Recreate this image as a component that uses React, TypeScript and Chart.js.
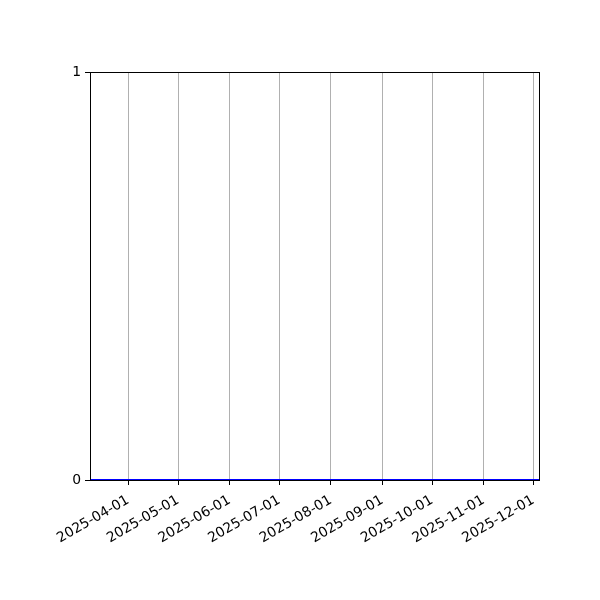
import { useEffect, useRef } from 'react';
import { Chart, registerables } from 'chart.js';

Chart.register(...registerables);

// series: a flat line at zero over the whole date range
const SERIES_DATES = ['2025-03-09', '2025-12-05'];
const SERIES_VALUES = [0, 0];

// month ticks on the x axis
const X_TICK_DATES = [
  '2025-04-01', '2025-05-01', '2025-06-01', '2025-07-01', '2025-08-01',
  '2025-09-01', '2025-10-01', '2025-11-01', '2025-12-01',
];
const Y_TICKS = [0, 1];

const DAY = 86400000;
const toDay = (s: string) => {
  const [y, m, d] = s.split('-').map(Number);
  return Date.UTC(y, m - 1, d) / DAY;
};
const fromDay = (v: number) => new Date(Math.round(v) * DAY).toISOString().slice(0, 10);

const FONT = { family: 'DejaVu Sans', size: 13.9 };

// frame on all four sides, drawn over the line like matplotlib spines
const framePlugin = {
  id: 'frame',
  afterDatasetsDraw(chart: Chart) {
    const { ctx, chartArea: a } = chart;
    ctx.save();
    ctx.strokeStyle = '#000';
    ctx.lineWidth = 1;
    ctx.strokeRect(a.left + 0.5, a.top + 0.5, a.right - a.left - 1, a.bottom - a.top);
    ctx.restore();
  },
};

export default function App() {
  const canvasRef = useRef<HTMLCanvasElement>(null);

  useEffect(() => {
    document.body.style.margin = '0';
    if (!canvasRef.current) return;
    const xs = SERIES_DATES.map(toDay);
    const chart = new Chart(canvasRef.current, {
      type: 'line',
      data: {
        datasets: [{
          data: xs.map((x, i) => ({ x, y: SERIES_VALUES[i] })),
          borderColor: '#0000ff',
          borderWidth: 2.1,
          pointRadius: 0,
          fill: false,
          clip: false,
        }],
      },
      options: {
        animation: false,
        responsive: false,
        devicePixelRatio: 1,
        layout: { padding: { top: 72, right: 60, left: 0, bottom: 0 } },
        plugins: { legend: { display: false }, tooltip: { enabled: false } },
        scales: {
          x: {
            type: 'linear',
            min: xs[0],
            max: xs[xs.length - 1],
            afterBuildTicks: (s: any) => {
              s.ticks = X_TICK_DATES.map((d) => ({ value: toDay(d) }));
            },
            afterFit: (s: any) => { s.height = 120; },
            ticks: {
              color: '#000',
              font: FONT,
              minRotation: 30,
              maxRotation: 30,
              autoSkip: false,
              padding: 7,
              labelOffset: 0,
              callback: (v: any) => fromDay(Number(v)),
            },
            grid: { color: '#b0b0b0', lineWidth: 1, tickColor: '#000', tickLength: 5 },
            border: { display: false },
          },
          y: {
            min: 0,
            max: 1,
            afterBuildTicks: (s: any) => {
              s.ticks = Y_TICKS.map((v) => ({ value: v }));
            },
            afterFit: (s: any) => { s.width = 90; },
            ticks: { color: '#000', font: FONT, padding: 4 },
            grid: { drawOnChartArea: false, tickColor: '#000', tickLength: 5 },
            border: { display: false },
          },
        },
      },
      plugins: [framePlugin],
    });
    return () => chart.destroy();
  }, []);

  return (
    <div style={{ width: 600, height: 600, background: '#fff' }}>
      <canvas ref={canvasRef} width={600} height={600} />
    </div>
  );
}
